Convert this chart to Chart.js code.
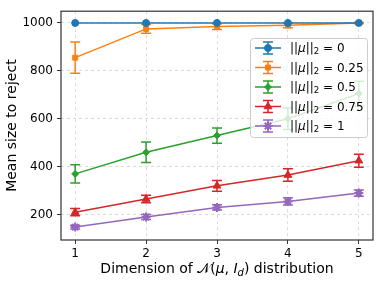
<!DOCTYPE html>
<html lang="en">
<head>
    <meta charset="UTF-8">
    <title>Mean size to reject</title>
    <script src="https://cdn.jsdelivr.net/npm/chart.js"></script>
    <style>
        html, body { margin: 0; padding: 0; background: #fff; }
        #wrap { width: 380px; height: 283px; }
    </style>
</head>
<body>
    <div id="wrap"><canvas id="chart" width="380" height="283"></canvas></div>
    <script>
        // data
        const dims = [1, 2, 3, 4, 5];
        const yTicks = [200, 400, 600, 800, 1000];
        const normLabels = ['0', '0.25', '0.5', '0.75', '1'];
        const colors = ['#1f77b4', '#ff7f0e', '#2ca02c', '#d62728', '#9467bd'];
        const markers = ['circle', 'rect', 'rectRot', 'triangle', 'star'];

        const mean0 = [1000, 1000, 1000, 1000, 1000];
        const err0 = [0, 0, 0, 0, 0];
        const mean25 = [855, 975, 985, 990, 1000];
        const err25 = [65, 18, 12, 10, 3];
        const mean50 = [370, 460, 530, 600, 705];
        const err50 = [38, 43, 32, 45, 52];
        const mean75 = [210, 265, 320, 365, 425];
        const err75 = [15, 16, 22, 26, 27];
        const mean100 = [148, 190, 230, 255, 290];
        const err100 = [8, 10, 11, 15, 13];

        const means = [mean0, mean25, mean50, mean75, mean100];
        const errs = [err0, err25, err50, err75, err100];
        const radii = [3.5, 3.5, 3.5, 4.5, 4.5];

        const FONT = '"DejaVu Sans", sans-serif';

        function drawPieces(ctx, pieces, x, y, align) {
            // pieces: [text, font, dy]
            let total = 0;
            pieces.forEach(p => { ctx.font = p[1]; total += ctx.measureText(p[0]).width; });
            let cx = align === 'center' ? x - total / 2 : x;
            ctx.textAlign = 'left';
            pieces.forEach(p => {
                ctx.font = p[1];
                ctx.fillText(p[0], cx, y + (p[2] || 0));
                cx += ctx.measureText(p[0]).width;
            });
        }

        function drawErrBar(ctx, x, yLo, yHi, color) {
            ctx.save();
            ctx.strokeStyle = color;
            ctx.lineWidth = 1.5;
            ctx.beginPath();
            ctx.moveTo(x, yLo); ctx.lineTo(x, yHi);
            ctx.moveTo(x - 5, yLo); ctx.lineTo(x + 5, yLo);
            ctx.moveTo(x - 5, yHi); ctx.lineTo(x + 5, yHi);
            ctx.stroke();
            ctx.restore();
        }

        const overlay = {
            id: 'overlay',
            beforeDatasetDraw(chart, args) {
                const i = args.index;
                const xs = chart.scales.x, ys = chart.scales.y;
                dims.forEach((d, j) => {
                    const e = errs[i][j];
                    if (!e) return;
                    drawErrBar(chart.ctx, xs.getPixelForValue(d),
                        ys.getPixelForValue(means[i][j] - e),
                        ys.getPixelForValue(means[i][j] + e), colors[i]);
                });
            },
            afterDraw(chart) {
                const ctx = chart.ctx;
                const a = chart.chartArea;
                ctx.save();
                // spines
                ctx.strokeStyle = '#333';
                ctx.lineWidth = 1.2;
                ctx.strokeRect(a.left, a.top, a.right - a.left, a.bottom - a.top);

                // axis titles
                ctx.fillStyle = '#000';
                ctx.textBaseline = 'alphabetic';
                const f = '14px ' + FONT;
                const fi = 'italic 14px ' + FONT;
                drawPieces(ctx, [
                    ['Dimension of ', f],
                    ['\u{1D4A9}', '14px "DejaVu Serif", serif'],
                    ['(', f], ['\u03bc', fi], [', ', f], ['I', fi],
                    ['d', 'italic 10px ' + FONT, 3], [')', f],
                    [' distribution', f]
                ], 217, 273, 'center');

                ctx.save();
                ctx.translate(16, (a.top + a.bottom) / 2);
                ctx.rotate(-Math.PI / 2);
                ctx.font = f;
                ctx.textAlign = 'center';
                ctx.fillText('Mean size to reject', 0, 0);
                ctx.restore();

                // legend
                const lx = 250, ly = 38, lw = 117, lh = 99;
                ctx.fillStyle = 'rgba(255,255,255,0.8)';
                ctx.strokeStyle = 'rgba(200,200,200,0.9)';
                ctx.lineWidth = 1;
                ctx.beginPath();
                ctx.roundRect(lx + 0.5, ly + 0.5, lw, lh, 3);
                ctx.fill();
                ctx.stroke();

                normLabels.forEach((lab, i) => {
                    const y = 48 + i * 19.5;
                    ctx.strokeStyle = colors[i];
                    ctx.lineWidth = 1.5;
                    ctx.beginPath();
                    ctx.moveTo(255, y); ctx.lineTo(281, y);
                    ctx.stroke();
                    drawErrBar(ctx, 268, y - 6, y + 6, colors[i]);
                    ctx.fillStyle = colors[i];
                    ctx.strokeStyle = colors[i];
                    ctx.lineWidth = markers[i] === 'star' ? 2 : 1;
                    Chart.helpers.drawPoint(ctx, {
                        pointStyle: markers[i], radius: radii[i], rotation: 0, borderWidth: ctx.lineWidth
                    }, 268, y);
                    ctx.fillStyle = '#000';
                    ctx.textBaseline = 'middle';
                    const tf = '12px ' + FONT;
                    drawPieces(ctx, [
                        ['||', tf], ['\u03bc', 'italic 12px ' + FONT], ['||', tf],
                        ['2', '8.5px ' + FONT, 3], [' = ' + lab, tf]
                    ], 290, y + 1, 'left');
                });
                ctx.restore();
            }
        };

        const datasets = means.map((m, i) => ({
            label: normLabels[i],
            data: dims.map((d, j) => ({ x: d, y: m[j] })),
            borderColor: colors[i],
            backgroundColor: colors[i],
            borderWidth: 1.5,
            pointStyle: markers[i],
            pointRadius: radii[i],
            pointBorderWidth: markers[i] === 'star' ? 2 : 1,
            tension: 0
        }));

        const gridOpts = {
            color: 'rgba(0,0,0,0.14)',
            drawTicks: true,
            tickLength: 4,
            tickColor: '#333',
            tickWidth: 1,
            tickBorderDash: []
        };

        new Chart(document.getElementById('chart').getContext('2d'), {
            type: 'line',
            data: { datasets: datasets },
            options: {
                responsive: false,
                animation: false,
                devicePixelRatio: 1,
                layout: { padding: { top: 6, right: 7, left: 0, bottom: 0 } },
                plugins: { legend: { display: false }, tooltip: { enabled: false } },
                scales: {
                    x: {
                        type: 'linear',
                        min: 0.8, max: 5.2,
                        afterBuildTicks: s => { s.ticks = dims.map(v => ({ value: v })); },
                        afterFit: s => { s.height = 43; },
                        ticks: { color: '#000', font: { family: FONT, size: 12 }, padding: 3, maxRotation: 0,
                                 callback: v => String(v) },
                        grid: gridOpts,
                        border: { display: false, dash: [3, 3] }
                    },
                    y: {
                        min: 94, max: 1049,
                        afterBuildTicks: s => { s.ticks = yTicks.map(v => ({ value: v })); },
                        afterFit: s => { s.width = 61; },
                        ticks: { color: '#000', font: { family: FONT, size: 12 }, padding: 4,
                                 callback: v => String(v) },
                        grid: gridOpts,
                        border: { display: false, dash: [3, 3] }
                    }
                }
            },
            plugins: [overlay]
        });
    </script>
</body>
</html>
